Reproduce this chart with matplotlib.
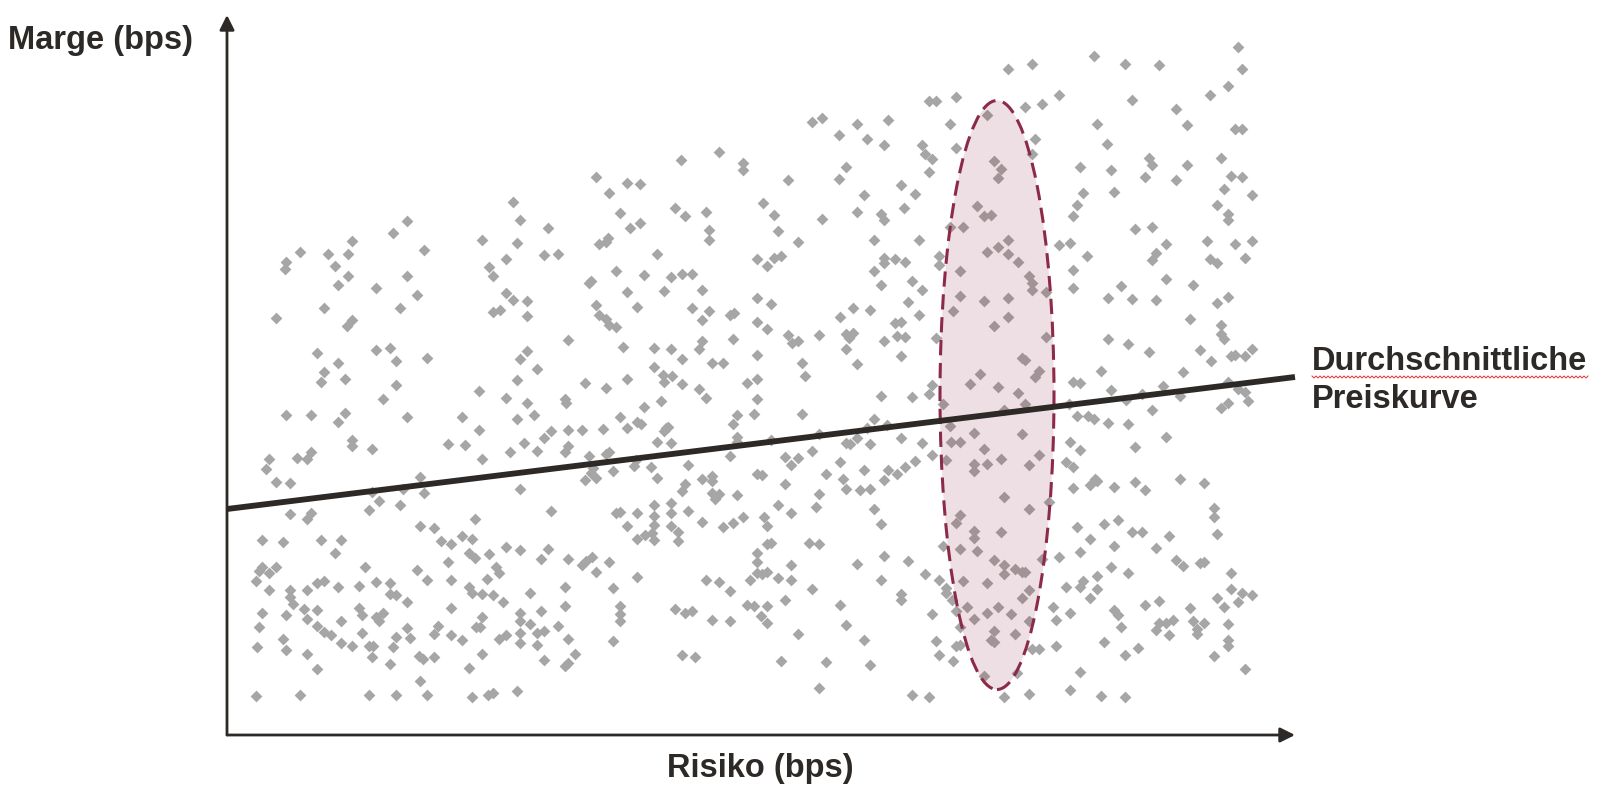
import numpy as np
import matplotlib
matplotlib.use("Agg")
import matplotlib.pyplot as plt
from matplotlib.patches import Ellipse

# Kunden: (Risiko, Marge) in bps
punkte_oben = [
    (180, 514), (166, 502), (125, 494), (73, 483), (101, 481), (121, 481), (59, 473), (197, 485), (255, 495),
    (369, 558), (382, 542), (400, 552), (413, 551), (454, 575), (492, 583), (516, 572), (516, 565), (286, 533),
    (293, 515), (321, 507), (290, 492), (279, 476), (317, 480), (331, 481), (393, 522), (403, 507), (413, 512),
    (381, 497), (372, 491), (379, 493), (430, 481), (448, 527), (458, 519), (479, 523), (482, 505), (482, 495),
    (781, 666), (729, 638), (702, 634), (709, 634), (723, 611), (760, 620), (585, 613), (595, 617), (630, 611),
    (661, 615), (612, 600), (640, 596), (657, 590), (695, 590), (698, 581), (705, 576), (729, 587), (702, 563),
    (767, 574), (774, 566), (771, 557), (561, 555), (619, 568), (612, 556), (674, 550), (688, 541), (637, 540),
    (536, 532), (547, 520), (551, 504), (571, 493), (595, 516), (630, 523), (654, 521), (657, 515), (677, 527),
    (750, 529), (757, 519), (764, 520), (723, 508), (736, 508), (647, 495), (692, 495), (781, 495), (771, 488),
    (760, 483), (781, 481), (530, 476), (547, 477), (554, 479), (657, 477), (657, 472), (668, 476), (678, 473),
    (712, 479), (712, 470),
    (1011, 688), (867, 679), (805, 671), (898, 671), (932, 670), (1015, 666), (1001, 649), (983, 640), (832, 640),
    (815, 631), (798, 628), (905, 635), (949, 626), (870, 611), (960, 610), (1008, 606), (1015, 606), (808, 596),
    (880, 591), (805, 581), (922, 577), (925, 570), (960, 570), (994, 577), (853, 568), (884, 565), (918, 558),
    (949, 555), (1004, 559), (1015, 558), (997, 546), (1025, 540), (856, 542), (887, 543), (850, 530), (846, 519),
    (990, 530), (1001, 521), (1001, 515), (908, 506), (925, 508), (832, 490), (843, 492), (860, 479), (939, 491),
    (929, 482), (925, 475), (980, 494), (1008, 491), (1025, 494), (1018, 477), (983, 476), (990, 472), (791, 473),
]

punkte_mitte = [
    (58, 466), (108, 469), (121, 459), (111, 450), (149, 447), (180, 459), (190, 440), (173, 427), (262, 468),
    (266, 459), (266, 423), (97, 427), (49, 417), (125, 415), (120, 409), (90, 382), (111, 372), (97, 363),
    (94, 353), (118, 356), (149, 385), (163, 387), (169, 374), (200, 377), (169, 350), (156, 336), (252, 344),
    (59, 320), (84, 320), (118, 322), (111, 313), (180, 318), (235, 318), (252, 305), (221, 291), (238, 290),
    (255, 276), (125, 295), (125, 289), (145, 286), (84, 283), (80, 276), (70, 277), (42, 276), (39, 266),
    (49, 253), (63, 252), (193, 258), (145, 243), (176, 246), (197, 242),
    (389, 464), (417, 460), (444, 458), (455, 461), (465, 461), (364, 454), (362, 452), (400, 443), (437, 444),
    (475, 445), (279, 442), (286, 435), (300, 434), (273, 425), (300, 419), (369, 430), (372, 420), (379, 416),
    (382, 410), (389, 408), (410, 428), (465, 427), (482, 424), (475, 415), (503, 420), (507, 422), (341, 395),
    (300, 384), (293, 376), (310, 366), (396, 388), (427, 387), (444, 386), (455, 376), (475, 394), (472, 386),
    (506, 396), (485, 372), (496, 372), (427, 368), (436, 360), (445, 359), (437, 353), (455, 351), (290, 355),
    (358, 352), (379, 347), (400, 356), (472, 346), (479, 337), (520, 352), (279, 337), (300, 332), (338, 336),
    (339, 332), (307, 320), (290, 316), (417, 328), (434, 334), (393, 318), (400, 307), (410, 313), (414, 311),
    (439, 307), (437, 304), (441, 308), (510, 320), (506, 311), (510, 298), (510, 293), (324, 304), (317, 297),
    (341, 305), (355, 305), (376, 306), (297, 292), (283, 283), (310, 284), (338, 283), (341, 289), (430, 293),
    (444, 292), (362, 279), (379, 281), (382, 283), (409, 275), (407, 269), (424, 268), (461, 270), (503, 279),
    (366, 267), (364, 262), (369, 257), (358, 255), (386, 264), (430, 257), (475, 256), (485, 259), (485, 254),
    (293, 246), (458, 251), (455, 244), (485, 242), (492, 241), (510, 240),
    (540, 469), (647, 464), (733, 464), (654, 450), (685, 454), (695, 445), (530, 437), (544, 431), (733, 439),
    (757, 434), (781, 437), (781, 418), (767, 409), (726, 424), (681, 433), (692, 420), (626, 427), (643, 425),
    (613, 418), (530, 413), (540, 406), (561, 400), (565, 392), (571, 394), (592, 400), (619, 401), (626, 402),
    (622, 397), (619, 386), (668, 412), (674, 413), (670, 399), (678, 398), (657, 394), (674, 379), (709, 397),
    (530, 380), (575, 372), (630, 371), (578, 359), (530, 356), (530, 336), (654, 339), (685, 338), (702, 341),
    (705, 350), (716, 331), (743, 351), (753, 361), (771, 348), (527, 321), (575, 321), (647, 316), (660, 310),
    (640, 307), (592, 301), (544, 295), (619, 292), (623, 291), (630, 297), (643, 291), (674, 297), (695, 292),
    (723, 309), (747, 302), (777, 325), (724, 293), (733, 293), (585, 284), (558, 278), (571, 277), (564, 270),
    (613, 273), (688, 274), (705, 280), (719, 275), (757, 286), (774, 276), (747, 271), (760, 271), (747, 264),
    (530, 261), (535, 260), (599, 261), (637, 265), (661, 265), (670, 261), (678, 268), (558, 251), (616, 256),
    (619, 246), (633, 245), (643, 246), (657, 255), (592, 241),
    (802, 459), (805, 452), (805, 445), (819, 443), (846, 465), (846, 447), (894, 449), (881, 437), (905, 436),
    (929, 435), (939, 456), (966, 450), (1001, 438), (990, 432), (963, 416), (994, 410), (994, 401), (997, 396),
    (819, 398), (881, 396), (901, 391), (922, 383), (973, 385), (984, 374), (1004, 379), (1008, 380), (1018, 379),
    (1025, 386), (795, 377), (798, 375), (812, 364), (808, 358), (874, 364), (956, 363), (846, 353), (853, 352),
    (884, 345), (936, 349), (1001, 353), (1011, 346), (1018, 343), (791, 342), (798, 331), (842, 331), (899, 335),
    (915, 341), (953, 339), (1001, 332), (994, 327), (1021, 334), (925, 325), (850, 319), (861, 319), (867, 316),
    (881, 312), (901, 311), (795, 301), (939, 298), (843, 293), (853, 285), (908, 288), (812, 280), (802, 270),
    (839, 273), (846, 268), (868, 256), (863, 250), (870, 254), (846, 247), (887, 248), (908, 253), (918, 245),
    (953, 256), (977, 252),
]

punkte_unten = [
    (152, 234), (142, 225), (173, 230), (63, 221), (84, 222), (80, 216), (248, 216), (193, 209), (207, 207),
    (35, 195), (56, 193), (94, 195), (114, 195), (108, 182), (214, 194), (224, 191), (235, 199), (245, 196),
    (242, 182), (248, 177), (262, 181), (221, 173), (138, 168), (190, 165), (200, 155), (224, 155), (35, 168),
    (32, 164), (49, 168), (42, 162), (29, 154), (42, 145), (63, 145), (80, 145), (90, 152), (97, 154), (111, 148),
    (132, 149), (149, 153), (163, 152), (163, 141), (169, 140), (180, 133), (242, 148), (245, 142), (255, 141),
    (266, 140), (260, 156), (63, 138), (66, 131), (35, 122), (59, 120), (77, 126), (90, 125), (80, 116), (114, 114),
    (132, 127), (135, 120), (149, 118), (152, 114), (156, 122), (224, 127), (255, 118), (32, 108), (90, 109),
    (97, 103), (104, 100), (135, 102), (180, 107), (211, 109), (207, 101), (224, 100), (249, 108), (253, 108),
    (169, 98), (183, 97), (235, 95), (56, 96), (30, 88), (59, 85), (80, 81), (114, 92), (125, 89), (142, 89),
    (146, 89), (166, 88), (145, 78), (163, 71), (192, 79), (196, 76), (207, 78), (255, 81), (90, 66), (242, 67),
    (193, 54), (29, 39), (73, 40), (142, 40), (169, 40), (200, 40), (245, 38), (261, 40), (266, 42),
    (488, 236), (324, 224), (389, 222), (393, 223), (410, 222), (427, 230), (444, 232), (444, 222), (461, 224),
    (427, 219), (400, 209), (427, 210), (444, 209), (451, 203), (451, 194), (410, 196), (418, 200), (425, 202),
    (427, 195), (475, 213), (496, 208), (506, 212), (516, 218), (279, 188), (293, 185), (321, 186), (314, 176),
    (341, 176), (355, 170), (359, 174), (365, 178), (382, 173), (369, 163), (410, 158), (269, 168), (272, 162),
    (338, 148), (386, 147), (303, 142), (276, 133), (338, 129), (314, 124), (293, 122), (293, 114), (303, 111),
    (331, 109), (293, 102), (310, 102), (317, 104), (272, 96), (279, 100), (293, 92), (310, 90), (341, 96),
    (393, 129), (393, 121), (393, 114), (386, 94), (317, 75), (338, 69), (341, 72), (348, 81), (290, 44),
    (479, 155), (492, 153), (503, 144), (448, 126), (458, 122), (465, 124), (485, 115), (503, 114), (455, 80),
    (468, 78), (523, 155), (520, 130), (527, 129),
    (777, 238), (551, 230), (589, 228), (564, 222), (537, 218), (540, 209), (647, 226), (654, 211), (733, 220),
    (729, 212), (747, 204), (747, 197), (774, 203), (540, 191), (544, 192), (582, 192), (592, 191), (530, 182),
    (530, 173), (564, 170), (530, 162), (535, 161), (540, 163), (551, 157), (564, 155), (630, 171), (657, 179),
    (681, 174), (698, 161), (712, 155), (716, 189), (733, 186), (750, 184), (767, 175), (777, 170), (777, 161),
    (788, 166), (654, 155), (585, 146), (719, 147), (719, 142), (736, 154), (760, 152), (558, 135), (540, 129),
    (613, 130), (674, 141), (674, 135), (725, 135), (740, 128), (771, 128), (534, 119), (540, 112), (619, 110),
    (705, 121), (729, 124), (747, 116), (760, 122), (784, 121), (571, 101), (637, 95), (709, 94), (733, 108),
    (767, 104), (764, 95), (767, 93), (788, 101), (729, 89), (733, 90), (712, 80), (726, 74), (554, 74), (599, 73),
    (643, 70), (757, 59), (592, 47), (685, 40), (702, 38), (777, 38),
    (802, 226), (822, 233), (850, 208), (877, 211), (891, 215), (905, 203), (915, 203), (942, 199), (987, 227),
    (987, 218), (990, 201), (863, 196), (887, 189), (929, 187), (853, 183), (832, 178), (815, 176), (949, 175),
    (956, 169), (973, 172), (977, 173), (884, 168), (901, 162), (1004, 162), (795, 163), (798, 163), (870, 159),
    (856, 154), (853, 148), (839, 148), (870, 146), (863, 137), (802, 145), (795, 137), (1004, 146), (1015, 142),
    (1025, 140), (990, 137), (1011, 133), (997, 128), (826, 128), (843, 122), (887, 125), (891, 120), (918, 130),
    (932, 134), (963, 127), (829, 115), (802, 114), (894, 108), (929, 105), (932, 112), (939, 112), (946, 115),
    (942, 100), (966, 114), (977, 112), (970, 106), (970, 101), (1001, 111), (1001, 95), (1001, 89), (805, 86),
    (812, 86), (829, 89), (877, 93), (898, 80), (911, 87), (987, 79), (1018, 66), (790, 62), (853, 63), (802, 41),
    (843, 45), (874, 39), (898, 38),
]

# Durchschnittliche Preiskurve (Anfang/Ende)
kurve_risiko = [0, 1068]
kurve_marge = [226, 358]

# hervorgehobenes Risikosegment
segment_mitte = (770, 340)
segment_breite = 114
segment_hoehe = 589

achse_x_ende = 1068
achse_y_ende = 720

dunkel = "#2d2926"
grau = "#a6a6a6"
weinrot = "#8c2b47"

plt.rcParams["font.family"] = ["Liberation Sans", "DejaVu Sans"]

fig = plt.figure(figsize=(16.01, 7.93), dpi=100)
ax = fig.add_axes([0, 0, 1, 1])
ax.set_xlim(-227, 1601 - 227)
ax.set_ylim(735 - 793, 735)
ax.axis("off")

pts = np.array(punkte_oben + punkte_mitte + punkte_unten)
ax.scatter(pts[:, 0], pts[:, 1], marker="D", s=36, color=grau, linewidths=0, zorder=2)

ell = Ellipse(segment_mitte, segment_breite, segment_hoehe, facecolor=weinrot, alpha=0.15,
              edgecolor="none", zorder=3)
ax.add_patch(ell)
ell_rand = Ellipse(segment_mitte, segment_breite, segment_hoehe, facecolor="none",
                   edgecolor=weinrot, lw=2.2, linestyle=(0, (5, 2.5)), zorder=4)
ax.add_patch(ell_rand)

ax.plot(kurve_risiko, kurve_marge, color=dunkel, lw=4.2, solid_capstyle="butt", zorder=5)

# Achsen mit Pfeilen
pfeil = dict(arrowstyle="-|>", color=dunkel, lw=2.0, mutation_scale=22, shrinkA=0, shrinkB=0)
ax.annotate("", xy=(achse_x_ende, 0), xytext=(0, 0), arrowprops=pfeil, zorder=6)
ax.annotate("", xy=(0, achse_y_ende), xytext=(0, 0), arrowprops=pfeil, zorder=6)

fs = 23.5
ax.text(-219, 694, "Marge (bps)", fontsize=fs, fontweight="bold", color=dunkel, ha="left", va="center")
ax.text(533, -34, "Risiko (bps)", fontsize=fs, fontweight="bold", color=dunkel, ha="center", va="center")
ax.text(1085, 373, "Durchschnittliche", fontsize=fs, fontweight="bold", color=dunkel, ha="left", va="center")
ax.text(1085, 336, "Preiskurve", fontsize=fs, fontweight="bold", color=dunkel, ha="left", va="center")

# rote Wellenlinie unter "Durchschnittliche"
wx = np.arange(1085, 1362, 2.0)
wy = 358 + np.where((np.arange(len(wx)) % 2) == 0, 1.0, -1.0)
ax.plot(wx, wy, color="#e03030", lw=0.7, zorder=6)

fig.savefig("out.png", dpi=100)
